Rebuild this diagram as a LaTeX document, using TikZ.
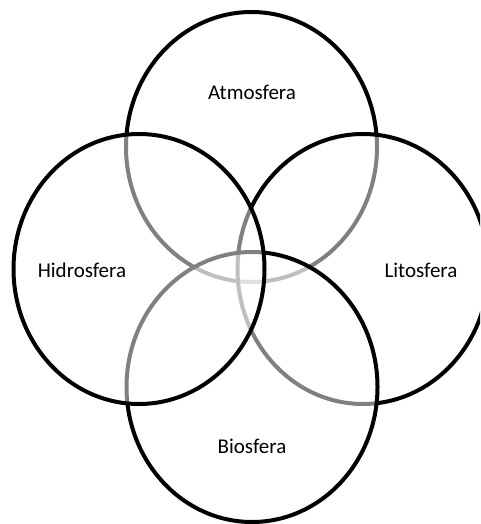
\documentclass[tikz,border=0pt]{standalone}
\usepackage{fontspec}
\setmainfont{Carlito}
\begin{document}
\begin{tikzpicture}[x=1pt,y=-1pt,
  sphere/.style={draw=black,line width=4pt,fill=white,fill opacity=0.5,draw opacity=1},
  lbl/.style={font=\fontsize{21}{24}\selectfont,text=black,inner sep=0pt}]
\useasboundingbox (0,0) rectangle (480,524);
\clip (0,0) rectangle (480,524);
% draw order: Atmosfera, Litosfera, Biosfera, Hidrosfera
\draw[sphere] (251.5,147) ellipse [x radius=125.5pt, y radius=135pt];
\draw[sphere] (363,269) ellipse [x radius=125.5pt, y radius=135pt];
\draw[sphere] (252,387) ellipse [x radius=125.5pt, y radius=135pt];
\draw[sphere] (139,269) ellipse [x radius=125.5pt, y radius=135pt];
\node[lbl] (atm) at (252,92) {Atmosfera};
\node[lbl] (hid) at (82,270) {Hidrosfera};
\node[lbl] (lit) at (421,270) {Litosfera};
\node[lbl] (bio) at (252,446) {Biosfera};
\end{tikzpicture}
\end{document}
